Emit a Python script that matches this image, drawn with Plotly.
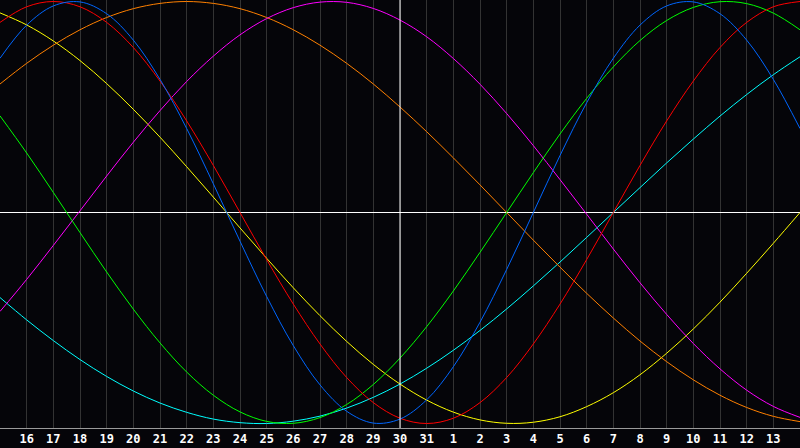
import plotly.graph_objects as go

# day positions (0 = day before first label, 30 = day after last label)
positions = list(range(31))
tick_positions = list(range(1, 30))
tick_labels = ["16", "17", "18", "19", "20", "21", "22", "23", "24", "25", "26", "27",
               "28", "29", "30", "31", "1", "2", "3", "4", "5", "6", "7", "8", "9",
               "10", "11", "12", "13"]
today_position = 15

emotional = [0.901, 0.975, 1.0, 0.975, 0.901, 0.782, 0.623, 0.434, 0.223, 0.0,
             -0.223, -0.434, -0.623, -0.782, -0.901, -0.975, -1.0, -0.975, -0.901, -0.782,
             -0.623, -0.434, -0.223, 0.0, 0.223, 0.434, 0.623, 0.782, 0.901, 0.975, 1.0]
physical = [0.731, 0.888, 0.979, 0.998, 0.942, 0.817, 0.631, 0.398, 0.136, -0.136,
            -0.398, -0.631, -0.817, -0.942, -0.998, -0.979, -0.888, -0.731, -0.520, -0.270,
            0.0, 0.270, 0.520, 0.731, 0.888, 0.979, 0.998, 0.942, 0.817, 0.631, 0.398]
intellectual = [0.458, 0.282, 0.095, -0.095, -0.282, -0.458, -0.618, -0.756, -0.866, -0.945,
                -0.990, -0.999, -0.972, -0.910, -0.815, -0.690, -0.541, -0.372, -0.189, 0.0,
                0.189, 0.372, 0.541, 0.690, 0.815, 0.910, 0.972, 0.999, 0.990, 0.945, 0.866]
awareness = [0.609, 0.707, 0.793, 0.866, 0.924, 0.966, 0.991, 1.0, 0.991, 0.966,
             0.924, 0.866, 0.793, 0.707, 0.609, 0.5, 0.383, 0.259, 0.131, 0.0,
             -0.131, -0.259, -0.383, -0.5, -0.609, -0.707, -0.793, -0.866, -0.924, -0.966, -0.991]
intuitive = [-0.469, -0.317, -0.156, 0.008, 0.173, 0.333, 0.483, 0.621, 0.741, 0.842,
             0.919, 0.971, 0.997, 0.996, 0.967, 0.912, 0.833, 0.730, 0.608, 0.469,
             0.317, 0.156, -0.008, -0.173, -0.333, -0.483, -0.621, -0.741, -0.842, -0.919, -0.971]
aesthetic = [0.946, 0.889, 0.813, 0.720, 0.611, 0.489, 0.357, 0.217, 0.073, -0.073,
             -0.217, -0.357, -0.489, -0.611, -0.720, -0.813, -0.889, -0.946, -0.983, -0.999,
             -0.994, -0.968, -0.920, -0.854, -0.769, -0.667, -0.552, -0.425, -0.288, -0.146, 0.0]
spiritual = [-0.403, -0.509, -0.607, -0.697, -0.777, -0.846, -0.903, -0.947, -0.979, -0.996,
             -1.0, -0.989, -0.965, -0.927, -0.876, -0.813, -0.738, -0.653, -0.559, -0.457,
             -0.348, -0.235, -0.118, 0.0, 0.118, 0.235, 0.348, 0.457, 0.559, 0.653, 0.738]

series = [
    ("Spiritual", spiritual, "#00ffff"),
    ("Aesthetic", aesthetic, "#ffff00"),
    ("Awareness", awareness, "#ff8000"),
    ("Intuitive", intuitive, "#ff00ff"),
    ("Intellectual", intellectual, "#00ff00"),
    ("Emotional", emotional, "#ff0000"),
    ("Physical", physical, "#0066ff"),
]

fig = go.Figure()
for name, vals, color in series:
    fig.add_trace(go.Scatter(x=positions, y=vals, mode="lines", name=name,
                             line=dict(color=color, width=1, shape="spline", smoothing=1.0),
                             hoverinfo="skip"))

bg = "#050509"
fig.update_layout(
    width=800, height=448,
    margin=dict(l=0, r=0, t=0, b=20, pad=0),
    paper_bgcolor=bg, plot_bgcolor=bg,
    showlegend=False,
    xaxis=dict(range=[0, 30], tickvals=tick_positions, ticktext=tick_labels,
               showgrid=True, gridcolor="#333333", gridwidth=1,
               zeroline=False, showline=True, linecolor="#9a9a9a", linewidth=1, mirror=True,
               ticks="", ticklabelstandoff=0,
               tickfont=dict(family="DejaVu Sans Mono", size=12, color="white", weight="bold"),
               fixedrange=True),
    yaxis=dict(range=[-1.0213, 1.0071], showticklabels=False, showgrid=False,
               zeroline=True, zerolinecolor="white", zerolinewidth=1,
               showline=True, linecolor="#9a9a9a", linewidth=1, mirror=False,
               fixedrange=True),
    shapes=[dict(type="line", xref="x", yref="paper", x0=today_position,
                 x1=today_position, y0=0, y1=1,
                 line=dict(color="white", width=1), layer="above")],
)

fig.write_html("out.html", config={"displayModeBar": False},
               post_script="document.body.style.margin='0';document.body.style.background='%s';" % bg)
